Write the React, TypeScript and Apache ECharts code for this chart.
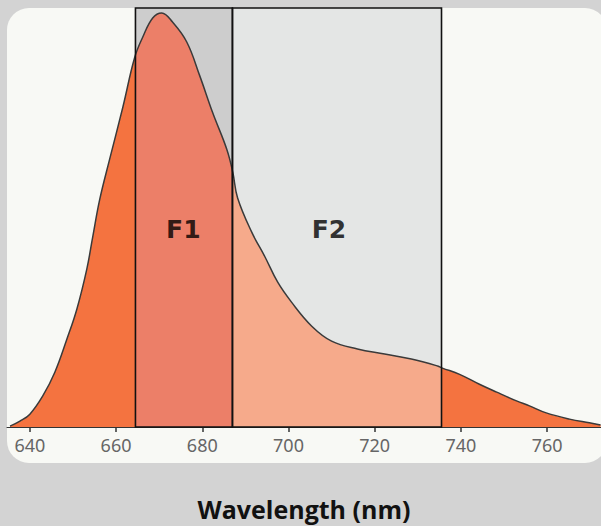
import React, { useEffect, useRef } from "react";
import * as echarts from "echarts";

// Emission spectrum (wavelength nm, normalized intensity)
const wavelengths = [635.4, 637.7, 640, 643, 645.8, 648.6, 650.9, 653.2, 654.6, 656.2, 658.5, 661.6, 664.3, 666.2, 668.5, 670.6, 673.1, 676.4, 679.4, 682.4, 685.7, 687.1, 688.2, 691.5, 694.5, 697.5, 700.7, 705.4, 710, 716, 722.3, 728.5, 734.6, 735.7, 739.7, 744.3, 748.3, 752.9, 755.9, 759.8, 765.2, 769.8, 772.4];
const intensity = [0.002, 0.014, 0.031, 0.075, 0.132, 0.212, 0.284, 0.38, 0.459, 0.548, 0.645, 0.772, 0.89, 0.94, 0.986, 0.998, 0.976, 0.928, 0.847, 0.758, 0.669, 0.613, 0.552, 0.469, 0.411, 0.349, 0.301, 0.243, 0.207, 0.188, 0.176, 0.164, 0.147, 0.142, 0.127, 0.103, 0.084, 0.063, 0.051, 0.034, 0.019, 0.01, 0.005];

// Filter bands
const bandNames = ["F1", "F2"];
const bandStart = [664.5, 687];
const bandEnd = [687, 735.5];
const bandLabelX = [675.6, 709.4];
const bandLabelY = [0.476, 0.476];

const xTicks = [640, 660, 680, 700, 720, 740, 760];

const COLORS = {
  page: "#d3d3d3",
  card: "#f8f9f5",
  outside: "#f47340",
  bandUnder: ["#ec7f68", "#f6aa8b"],
  bandOver: ["#cdcdcd", "#e4e6e5"],
};

export default function App() {
  const ref = useRef<HTMLDivElement>(null);
  useEffect(() => {
    if (!ref.current) return;
    const chart = echarts.init(ref.current, null, { renderer: "svg" });
    const data = wavelengths.map((w, i) => [w, intensity[i]]);
    const bands = bandNames.map((n, i) => [bandStart[i], bandEnd[i], i]);

    const makeOption = (areaColor: any) => ({
      animation: false,
      backgroundColor: "transparent",
      graphic: [
        {
          type: "rect",
          z: -10,
          silent: true,
          shape: { x: 7, y: 8, width: 600, height: 455, r: 22 },
          style: { fill: COLORS.card },
        },
      ],
      grid: { left: 7, right: 0, top: 8, bottom: 98 },
      xAxis: {
        type: "value",
        min: 634.7,
        max: 772.5,
        name: "Wavelength (nm)",
        nameLocation: "middle",
        nameGap: 69,
        nameTextStyle: { fontFamily: "Open Sans", fontWeight: "bold", fontSize: 25, color: "#111" },
        splitLine: { show: false },
        axisLine: { show: true, lineStyle: { color: "#333", width: 1 } },
        axisTick: { show: true, length: 5, lineStyle: { color: "#333", width: 1.5 }, customValues: xTicks },
        axisLabel: { show: true, color: "#666", fontSize: 18, fontFamily: "Noto Sans", margin: 9, customValues: xTicks },
      },
      yAxis: { type: "value", min: 0, max: 1.01, show: false, splitLine: { show: false } },
      series: [
        {
          type: "custom",
          z: 1,
          silent: true,
          data: bands,
          renderItem: (params: any, api: any) => {
            const p0 = api.coord([api.value(0), 1.01]);
            const p1 = api.coord([api.value(1), 0]);
            return {
              type: "rect",
              shape: { x: p0[0], y: p0[1], width: p1[0] - p0[0], height: p1[1] - p0[1] },
              style: { fill: COLORS.bandOver[api.value(2)] },
            };
          },
        },
        {
          type: "line",
          z: 2,
          silent: true,
          data,
          smooth: 0.4,
          symbol: "none",
          lineStyle: { color: "#3a3a3a", width: 1.5 },
          areaStyle: { color: areaColor, opacity: 1 },
        },
        {
          type: "custom",
          z: 3,
          silent: true,
          data: bands,
          renderItem: (params: any, api: any) => {
            const p0 = api.coord([api.value(0), 1.01]);
            const p1 = api.coord([api.value(1), 0]);
            return {
              type: "rect",
              shape: { x: p0[0], y: p0[1], width: p1[0] - p0[0], height: p1[1] - p0[1] },
              style: { fill: "none", stroke: "#111", lineWidth: 1.6 },
            };
          },
        },
        {
          type: "scatter",
          z: 4,
          silent: true,
          symbolSize: 0,
          data: bandNames.map((n, i) => ({ value: [bandLabelX[i], bandLabelY[i]], name: n })),
          label: {
            show: true,
            position: "inside",
            formatter: (p: any) => p.name,
            fontFamily: "DejaVu Sans",
            fontWeight: "bold",
            fontSize: 25,
            color: "#000",
            textBorderWidth: 0,
          },
        },
      ],
    });

    chart.setOption(makeOption(COLORS.outside));
    // Hard-stop horizontal gradient at the band boundaries, positioned through the axis scale
    const px = (v: number) => chart.convertToPixel({ xAxisIndex: 0 }, v) as number;
    const x0 = px(wavelengths[0]);
    const x1 = px(wavelengths[wavelengths.length - 1]);
    const f = (v: number) => Math.min(1, Math.max(0, (px(v) - x0) / (x1 - x0)));
    const stops: any[] = [{ offset: 0, color: COLORS.outside }];
    bandStart.forEach((s, i) => {
      const a = f(s);
      const b = f(bandEnd[i]);
      stops.push({ offset: a, color: i === 0 ? COLORS.outside : COLORS.bandUnder[i - 1] });
      stops.push({ offset: a, color: COLORS.bandUnder[i] });
      stops.push({ offset: b, color: COLORS.bandUnder[i] });
      if (i === bandStart.length - 1) stops.push({ offset: b, color: COLORS.outside });
    });
    stops.push({ offset: 1, color: COLORS.outside });
    const grad = new echarts.graphic.LinearGradient(x0, 0, x1, 0, stops, true);
    chart.setOption(makeOption(grad));
    return () => chart.dispose();
  }, []);
  return (
    <div style={{ position: "fixed", left: 0, top: 0, width: 601, height: 526, background: COLORS.page }}>
      <div ref={ref} style={{ width: 601, height: 526 }} />
    </div>
  );
}
